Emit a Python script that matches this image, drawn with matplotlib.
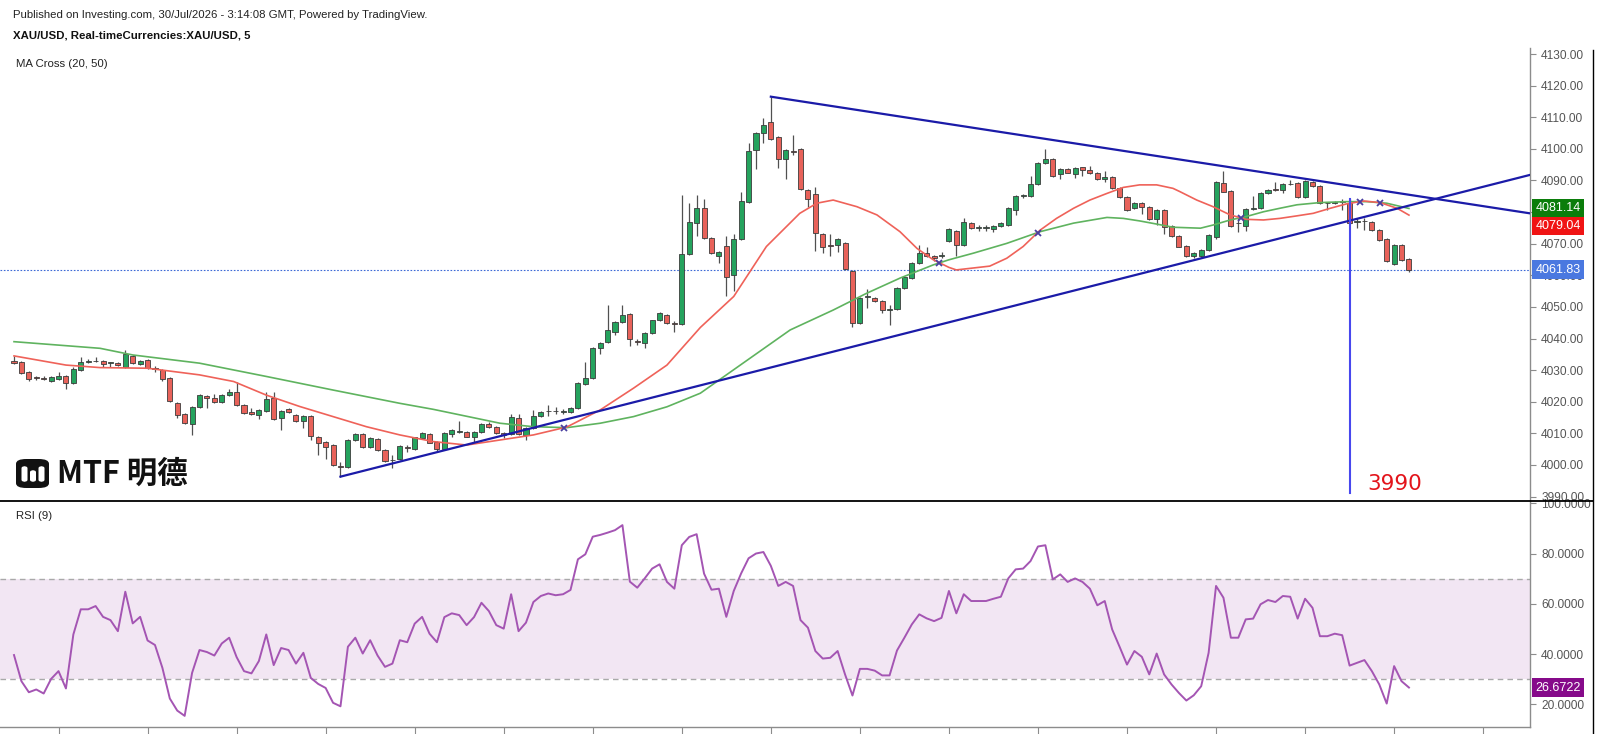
import numpy as np
import matplotlib
matplotlib.use('Agg')
from matplotlib import pyplot as plt
from matplotlib.lines import Line2D
from matplotlib.patches import FancyBboxPatch

W, H = 1600, 734

# 5 min XAU/USD candles
opens = [4033.0, 4032.5, 4029.5, 4027.6, 4027.6, 4026.7, 4027.3, 4028.3, 4025.8, 4030.1,
         4032.6, 4032.8, 4033.0, 4032.2, 4032.2, 4031.1, 4034.6, 4031.8, 4033.2, 4030.6,
         4030.1, 4027.4, 4019.5, 4016.1, 4013.0, 4018.2, 4021.8, 4021.1, 4020.0, 4022.1,
         4023.2, 4019.0, 4016.8, 4015.8, 4017.2, 4021.1, 4014.8, 4017.7, 4015.8, 4014.0,
         4015.5, 4009.0, 4007.4, 4006.3, 3999.5, 3999.3, 4008.0, 4009.8, 4005.6, 4008.1,
         4004.8, 4001.5, 4001.8, 4005.6, 4005.1, 4008.4, 4009.7, 4007.2, 4005.1, 4009.8,
         4010.4, 4010.5, 4009.0, 4010.5, 4013.0, 4011.9, 4010.0, 4009.8, 4014.8, 4009.6,
         4011.6, 4015.5, 4017.0, 4017.1, 4016.9, 4016.9, 4017.9, 4025.6, 4027.4, 4037.1,
         4039.0, 4042.2, 4045.3, 4047.7, 4039.2, 4038.5, 4041.7, 4045.9, 4047.4, 4044.7,
         4044.6, 4066.8, 4076.4, 4081.4, 4071.9, 4066.0, 4069.4, 4060.1, 4071.4, 4083.3,
         4099.7, 4104.9, 4108.6, 4103.7, 4096.8, 4099.2, 4100.0, 4087.0, 4085.6, 4073.0,
         4069.6, 4069.6, 4070.1, 4061.4, 4044.8, 4053.0, 4052.7, 4052.0, 4049.0, 4049.2,
         4055.9, 4059.1, 4063.8, 4067.2, 4066.2, 4066.2, 4070.8, 4074.1, 4069.6, 4076.5,
         4074.9, 4075.0, 4074.6, 4075.6, 4076.0, 4080.7, 4085.1, 4085.1, 4088.9, 4095.4,
         4096.7, 4092.1, 4093.6, 4091.9, 4094.1, 4093.3, 4092.3, 4090.4, 4091.2, 4087.5,
         4084.9, 4081.2, 4083.0, 4081.5, 4077.7, 4080.7, 4075.6, 4072.4, 4069.3, 4066.1,
         4066.1, 4068.0, 4072.2, 4089.3, 4086.7, 4076.4, 4075.6, 4080.9, 4081.2, 4086.0,
         4087.2, 4087.0, 4088.9, 4089.1, 4084.9, 4089.6, 4088.3, 4082.8, 4082.8, 4083.3,
         4083.0, 4077.0, 4077.2, 4077.0, 4074.3, 4071.4, 4063.5, 4069.6, 4065.2]
highs = [4034.5, 4033.0, 4029.8, 4028.0, 4028.0, 4028.0, 4029.5, 4028.6, 4031.0, 4034.0,
         4033.4, 4034.0, 4033.3, 4032.6, 4032.5, 4036.4, 4034.9, 4033.3, 4033.5, 4031.3,
         4030.4, 4027.7, 4019.8, 4016.4, 4018.5, 4022.3, 4022.1, 4022.5, 4022.4, 4024.0,
         4026.2, 4019.3, 4018.0, 4017.7, 4023.0, 4023.0, 4017.5, 4018.0, 4016.1, 4015.8,
         4015.8, 4009.3, 4007.7, 4006.6, 4000.8, 4008.3, 4010.2, 4010.1, 4008.7, 4008.4,
         4005.1, 4003.2, 4006.3, 4006.4, 4009.0, 4010.3, 4010.0, 4007.5, 4010.5, 4011.4,
         4014.0, 4010.8, 4010.8, 4013.3, 4013.6, 4012.2, 4010.3, 4016.0, 4016.0, 4011.9,
         4017.5, 4017.2, 4019.0, 4018.2, 4017.8, 4018.2, 4026.1, 4032.6, 4037.4, 4039.0,
         4050.6, 4045.6, 4050.6, 4048.0, 4040.0, 4042.0, 4046.0, 4048.3, 4047.7, 4045.4,
         4085.3, 4083.0, 4085.5, 4084.0, 4072.2, 4067.6, 4072.5, 4073.0, 4086.5, 4102.0,
         4105.2, 4109.6, 4116.5, 4104.0, 4100.0, 4104.4, 4100.3, 4087.3, 4088.0, 4073.3,
         4073.0, 4071.7, 4070.4, 4061.7, 4053.0, 4055.8, 4053.0, 4052.3, 4050.5, 4056.2,
         4059.7, 4064.1, 4069.7, 4069.0, 4066.5, 4067.5, 4074.9, 4074.4, 4078.0, 4076.8,
         4075.8, 4076.0, 4075.9, 4076.8, 4081.5, 4085.4, 4085.8, 4091.5, 4095.7, 4100.1,
         4097.0, 4093.9, 4093.9, 4094.2, 4094.4, 4094.7, 4092.6, 4093.0, 4091.5, 4087.8,
         4085.2, 4083.3, 4083.3, 4081.8, 4081.0, 4081.0, 4075.9, 4072.7, 4069.6, 4067.3,
         4068.3, 4073.1, 4089.9, 4093.0, 4087.0, 4078.5, 4081.2, 4085.0, 4086.3, 4087.3,
         4089.6, 4089.2, 4090.0, 4089.4, 4090.1, 4089.9, 4088.6, 4083.3, 4083.6, 4084.0,
         4084.0, 4078.0, 4078.0, 4077.3, 4074.6, 4071.7, 4069.9, 4069.9, 4065.5]
lows = [4031.8, 4028.8, 4026.7, 4027.0, 4026.8, 4026.4, 4027.0, 4024.0, 4025.5, 4029.8,
        4032.2, 4032.5, 4031.0, 4031.0, 4031.2, 4030.8, 4031.9, 4031.5, 4030.3, 4029.5,
        4026.7, 4020.0, 4015.0, 4012.9, 4009.6, 4018.0, 4017.9, 4019.7, 4019.7, 4021.8,
        4018.7, 4016.0, 4015.8, 4014.5, 4016.9, 4014.3, 4011.0, 4016.4, 4013.7, 4011.7,
        4007.8, 4003.0, 4002.0, 3999.6, 3996.3, 3999.0, 4007.7, 4005.3, 4005.3, 4004.4,
        4001.0, 3999.0, 4001.5, 4004.0, 4004.8, 4008.1, 4006.8, 4004.5, 4004.8, 4009.0,
        4010.0, 4008.7, 4007.0, 4010.2, 4011.6, 4009.7, 4008.6, 4009.5, 4009.5, 4008.0,
        4011.3, 4015.2, 4015.5, 4016.0, 4016.0, 4016.5, 4017.6, 4025.3, 4027.1, 4035.0,
        4038.7, 4041.0, 4045.0, 4037.5, 4038.0, 4037.0, 4041.4, 4045.6, 4044.7, 4042.0,
        4044.3, 4066.5, 4072.5, 4071.4, 4066.7, 4064.0, 4053.3, 4055.0, 4071.1, 4083.0,
        4093.7, 4102.0, 4102.7, 4094.0, 4090.4, 4098.2, 4087.0, 4081.5, 4067.7, 4067.0,
        4066.2, 4067.5, 4061.6, 4043.5, 4044.5, 4049.6, 4051.7, 4048.0, 4044.3, 4048.9,
        4055.6, 4058.8, 4063.5, 4065.8, 4064.5, 4065.6, 4070.5, 4066.0, 4069.3, 4074.6,
        4074.0, 4074.0, 4073.8, 4075.3, 4075.7, 4079.0, 4084.6, 4084.8, 4088.6, 4095.1,
        4091.1, 4090.5, 4092.2, 4090.8, 4091.5, 4092.0, 4090.1, 4089.5, 4087.2, 4084.6,
        4080.4, 4080.9, 4079.5, 4077.4, 4076.0, 4073.0, 4072.1, 4068.8, 4065.8, 4065.5,
        4065.8, 4067.7, 4071.5, 4086.2, 4075.3, 4073.8, 4074.0, 4080.6, 4080.9, 4085.7,
        4086.7, 4086.0, 4088.6, 4084.6, 4084.6, 4088.0, 4082.5, 4080.7, 4082.5, 4080.7,
        4076.2, 4074.9, 4074.3, 4074.0, 4070.9, 4064.2, 4063.2, 4064.6, 4060.9]
closes = [4032.4, 4029.2, 4027.2, 4027.5, 4027.1, 4027.7, 4028.2, 4025.8, 4030.3, 4032.7,
          4032.8, 4033.0, 4032.0, 4032.3, 4031.5, 4035.0, 4032.2, 4033.0, 4030.6, 4030.5,
          4027.1, 4020.3, 4015.8, 4013.2, 4018.2, 4022.0, 4021.1, 4020.0, 4022.1, 4023.1,
          4019.0, 4016.3, 4016.1, 4017.4, 4020.8, 4014.6, 4017.2, 4016.7, 4014.0, 4015.5,
          4009.2, 4007.1, 4005.8, 3999.9, 3999.4, 4008.0, 4009.9, 4005.6, 4008.4, 4004.7,
          4001.3, 4001.7, 4006.0, 4005.4, 4008.7, 4010.0, 4007.1, 4005.1, 4010.2, 4011.1,
          4010.6, 4009.0, 4010.5, 4013.0, 4011.9, 4010.0, 4009.5, 4015.3, 4009.8, 4011.6,
          4015.5, 4016.9, 4017.2, 4017.0, 4017.0, 4017.9, 4025.8, 4027.4, 4037.1, 4038.7,
          4042.7, 4045.3, 4047.4, 4039.8, 4039.0, 4041.7, 4045.7, 4048.0, 4045.0, 4044.6,
          4066.8, 4076.7, 4081.4, 4071.7, 4067.0, 4067.3, 4059.6, 4071.5, 4083.5, 4099.4,
          4104.9, 4107.4, 4103.0, 4096.8, 4099.7, 4098.9, 4087.3, 4084.0, 4073.5, 4068.8,
          4069.4, 4071.4, 4061.9, 4044.8, 4052.7, 4053.5, 4052.0, 4049.0, 4049.3, 4055.9,
          4059.4, 4063.8, 4067.2, 4066.1, 4065.4, 4066.5, 4074.6, 4069.6, 4077.0, 4074.9,
          4075.0, 4075.1, 4075.6, 4076.5, 4081.2, 4085.1, 4085.2, 4088.9, 4095.4, 4096.7,
          4091.4, 4093.6, 4092.5, 4093.9, 4093.3, 4092.3, 4090.4, 4091.2, 4087.5, 4084.9,
          4080.7, 4083.0, 4081.5, 4077.7, 4080.7, 4075.4, 4072.4, 4069.1, 4066.1, 4067.0,
          4068.0, 4072.8, 4089.6, 4086.5, 4075.6, 4076.6, 4080.9, 4081.4, 4086.0, 4087.0,
          4087.0, 4088.9, 4088.8, 4084.9, 4089.8, 4088.3, 4082.8, 4082.9, 4083.3, 4083.2,
          4076.5, 4077.1, 4077.1, 4074.3, 4071.2, 4064.5, 4069.6, 4064.9, 4061.83]

# RSI(9), one value per candle
rsi = [39.6, 29.2, 24.8, 25.9, 24.3, 30.1, 33.2, 26.3, 47.8, 57.8,
       57.8, 59.1, 54.8, 53.5, 49.1, 64.8, 52.2, 54.8, 45.4, 43.6,
       34.5, 22.3, 17.5, 15.4, 32.5, 41.6, 40.8, 39.4, 44.2, 46.5,
       38.8, 33.2, 32.3, 37.2, 47.8, 35.6, 42.4, 41.6, 36.2, 40.5,
       30.5, 28.1, 26.5, 20.6, 19.2, 42.9, 46.5, 40.2, 45.5, 39.4,
       34.9, 36.2, 45.5, 44.7, 52.1, 54.8, 48.1, 44.7, 54.7, 56.2,
       55.5, 51.5, 54.7, 60.4, 57.1, 51.5, 50.1, 63.8, 49.1, 52.5,
       60.7, 63.1, 64.1, 63.4, 63.8, 65.5, 77.7, 79.7, 86.7, 87.4,
       88.3, 89.3, 91.3, 68.8, 66.4, 70.1, 74.0, 75.7, 68.7, 66.0,
       83.3, 86.6, 87.7, 72.0, 65.6, 66.0, 54.8, 65.1, 72.1, 78.1,
       80.0, 80.6, 75.1, 67.1, 68.7, 67.1, 53.5, 50.5, 41.2, 38.2,
       38.5, 41.2, 31.9, 23.5, 34.1, 34.1, 33.4, 31.5, 31.5, 41.4,
       46.5, 51.8, 55.8, 54.2, 53.1, 54.4, 65.1, 56.2, 63.8, 61.1,
       61.1, 61.1, 62.0, 62.8, 70.1, 73.7, 74.0, 77.0, 82.8, 83.3,
       69.7, 71.7, 68.7, 70.1, 68.7, 66.0, 59.4, 61.1, 49.8, 42.9,
       35.8, 41.2, 38.9, 31.9, 40.2, 31.9, 27.9, 24.5, 21.5, 23.6,
       27.2, 40.5, 67.1, 62.4, 46.5, 46.5, 53.8, 54.1, 59.8, 61.5,
       60.7, 63.1, 62.8, 54.1, 62.0, 58.4, 47.1, 47.1, 48.1, 47.5,
       35.4, 36.5, 37.6, 33.2, 27.9, 20.3, 35.2, 29.2, 26.6722]

# moving averages, read at candle positions
ma20_idx = [0, 7, 11.6, 18, 25, 29.6, 34, 38.5, 43, 47.5, 52, 56.5, 61, 65.5, 70, 74.5,
            79, 83.5, 88, 92.5, 97, 101.4, 105.9, 108.2, 110.4, 113.6, 116.3, 119.4,
            121.7, 123.9, 126, 127, 131.5, 133.8, 136, 138.3, 140.5, 142.8, 145, 147.3,
            149.5, 151.7, 154, 156.2, 157.1, 159.4, 161.6, 163.9, 166.1, 168.4, 170.6,
            172.9, 175.1, 177.4, 179.6, 181.9, 184.1, 186.4, 188]
ma20_val = [4034.5, 4031.6, 4030.8, 4030.6, 4028.5, 4026.4, 4022.1, 4018.5, 4015.3, 4012.1,
            4009.5, 4007.4, 4006.3, 4007.9, 4009.5, 4012.0, 4017.4, 4024.3, 4031.6, 4043.5,
            4053.3, 4069.1, 4079.6, 4082.8, 4083.8, 4081.7, 4079.1, 4073.8, 4068.5, 4064.9,
            4062.5, 4061.7, 4062.9, 4065.4, 4069.1, 4074.3, 4078.0, 4081.2, 4083.8, 4085.9,
            4087.8, 4088.6, 4088.6, 4087.5, 4086.5, 4083.8, 4081.7, 4079.1, 4077.7, 4077.5,
            4078.0, 4078.8, 4079.6, 4081.2, 4082.6, 4083.5, 4083.0, 4081.2, 4079.04]
ma50_idx = [0, 11.6, 16, 25, 34, 43, 47.5, 52, 56.5, 65.5, 70, 74.5, 79, 83.5, 88, 92.5,
            104.6, 110.4, 114.9, 119.4, 123.9, 126, 129.3, 133.8, 138.3, 142.8, 147.3,
            149.5, 151.7, 154, 156.2, 159.9, 161.6, 163.9, 166.1, 168.4, 170.6, 172.9,
            176, 179.6, 182.3, 185, 188]
ma50_val = [4039.0, 4036.9, 4034.8, 4032.2, 4028.0, 4023.7, 4021.6, 4019.5, 4017.6, 4013.2,
            4012.1, 4011.8, 4013.2, 4015.3, 4018.4, 4022.7, 4042.7, 4049.0, 4054.3, 4059.1,
            4063.3, 4064.9, 4067.0, 4070.1, 4073.8, 4076.5, 4078.3, 4078.0, 4077.2, 4076.2,
            4075.2, 4074.9, 4075.9, 4077.5, 4078.6, 4080.1, 4081.2, 4082.3, 4083.0, 4083.3,
            4083.3, 4082.8, 4081.14]

# drawn trend lines (candle index, price)
upper_x = [102, 204.3]
upper_y = [4116.5, 4079.6]
lower_x = [44, 204.3]
lower_y = [3996.3, 4091.75]
target_x = 180
target_top = 4084.0
target_bottom = 3991.0
target_label = '3990'

last_price = 4061.83
last_ma50 = 4081.14
last_ma20 = 4079.04
last_rsi = 26.6722

price_ticks = list(range(3990, 4131, 10))
rsi_ticks = [20, 40, 60, 80, 100]
hour_ticks = list(range(6, 205, 12))

plt.rcParams['font.family'] = ['Liberation Sans', 'DejaVu Sans']

UP = '#25a35e'
DOWN = '#e8625a'
EDGE = '#3b3b3b'
AXC = '#8c8c8c'
LBL = '#555555'


def fx(x):
    return x / W


def fy(y):
    return 1 - y / H


n = len(closes)
xs = np.arange(n)
o = np.array(opens)
c = np.array(closes)

fig = plt.figure(figsize=(16, 7.34), dpi=100)

# main price panel
ax = fig.add_axes([0, fy(501), fx(1530), (501 - 48) / H])
ax.set_xlim(-14 / 7.42, (1530 - 14) / 7.42)
ax.set_ylim(3988.6, 4131.9)

ax.vlines(xs, lows, highs, color='#505050', lw=0.9, zorder=2)
body_lo = np.minimum(o, c)
body_h = np.maximum(np.abs(c - o), 0.22)
cols = [UP if cc >= oo else DOWN for oo, cc in zip(o, c)]
ax.bar(xs, body_h, bottom=body_lo, width=0.68, color=cols, edgecolor=EDGE,
       linewidth=0.6, zorder=3)

ax.plot(ma50_idx, ma50_val, color='#5fb35f', lw=1.2, zorder=4)
ax.plot(ma20_idx, ma20_val, color='#ef6259', lw=1.2, zorder=4)

# MA cross markers
grid = np.arange(0, n - 1, 0.05)
m20 = np.interp(grid, ma20_idx, ma20_val)
m50 = np.interp(grid, ma50_idx, ma50_val)
sgn = np.sign(m20 - m50)
cross = np.where(np.diff(sgn) != 0)[0]
ax.plot(grid[cross], m20[cross], 'x', color='#4a3f9f', ms=4, mew=1.3, zorder=5)

ax.plot(upper_x, upper_y, color='#1b1ba8', lw=1.6, zorder=5)
ax.plot(lower_x, lower_y, color='#1b1ba8', lw=1.6, zorder=5)
ax.plot([target_x, target_x], [target_top, target_bottom], color='#4848ee', lw=1.5, zorder=5)
ax.text(target_x + 2.4, target_bottom + 1.2, target_label, color='#e3141b', fontsize=15.5,
        family='DejaVu Sans', ha='left', va='baseline', zorder=6)

ax.axhline(last_price, color='#3d6ad6', lw=0.8, ls=(0, (1.5, 1.5)), zorder=1)

ax.yaxis.tick_right()
ax.set_yticks(price_ticks)
ax.set_yticklabels([f'{t:.2f}' for t in price_ticks])
ax.set_xticks([])
ax.tick_params(axis='y', length=4, width=0.8, color=AXC, labelcolor=LBL,
               labelsize=8.6, pad=4)
for s in ['left', 'top', 'bottom']:
    ax.spines[s].set_visible(False)
ax.spines['right'].set_color(AXC)
ax.spines['right'].set_linewidth(1.0)

for val, col, dy in [(last_ma50, '#0b7d0b', 0), (last_ma20, '#f01414', -7.8),
                     (last_price, '#4a78e0', 0)]:
    ax.annotate(f'{val:.2f}', xy=(1.0, val), xycoords=('axes fraction', 'data'),
                xytext=(4, dy), textcoords='offset points', ha='left', va='center',
                color='white', fontsize=9,
                bbox=dict(boxstyle='square,pad=0.26', fc=col, ec='none'),
                annotation_clip=False, zorder=10)

# RSI panel
ax2 = fig.add_axes([0, fy(727.3), fx(1530), (727.3 - 501) / H])
ax2.set_xlim(ax.get_xlim())
ax2.set_ylim(10.85, 100.9)
ax2.axhspan(30, 70, color='#f2e6f3', lw=0, zorder=0)
ax2.axhline(70, color='#a9a9a9', lw=1.0, ls=(0, (4, 3)), zorder=1)
ax2.axhline(30, color='#a9a9a9', lw=1.0, ls=(0, (4, 3)), zorder=1)
ax2.plot(xs, rsi, color='#a455b3', lw=1.4, zorder=3)

ax2.yaxis.tick_right()
ax2.set_yticks(rsi_ticks)
ax2.set_yticklabels([f'{t:.4f}' for t in rsi_ticks])
ax2.set_xticks(hour_ticks)
ax2.set_xticklabels([])
ax2.tick_params(axis='y', length=4, width=0.8, color=AXC, labelcolor=LBL,
                labelsize=8.6, pad=4)
ax2.tick_params(axis='x', length=6, width=0.8, color=AXC, direction='out')
for s in ['left', 'top']:
    ax2.spines[s].set_visible(False)
for s in ['right', 'bottom']:
    ax2.spines[s].set_color(AXC)
    ax2.spines[s].set_linewidth(1.0)
ax2.annotate(f'{last_rsi:.4f}', xy=(1.0, last_rsi), xycoords=('axes fraction', 'data'),
             xytext=(4, 0), textcoords='offset points', ha='left', va='center',
             color='white', fontsize=9,
             bbox=dict(boxstyle='square,pad=0.26', fc='#860a8a', ec='none'),
             annotation_clip=False, zorder=10)

# frame lines
fig.add_artist(Line2D([0, fx(1593)], [fy(501), fy(501)], color='black', lw=1.3))
fig.add_artist(Line2D([fx(1593), fx(1593)], [fy(50), 0], color='black', lw=1.0))

# header texts
fig.text(fx(13), fy(15), 'Published on Investing.com, 30/Jul/2026 - 3:14:08 GMT, Powered by TradingView.',
         fontsize=8.2, color='#222222', va='center', ha='left')
fig.text(fx(13), fy(35), 'XAU/USD, Real-timeCurrencies:XAU/USD, 5', fontsize=8.2,
         fontweight='bold', color='#111111', va='center', ha='left')
fig.text(fx(16), fy(64), 'MA Cross (20, 50)', fontsize=8.2, color='#222222', va='center', ha='left')
fig.text(fx(16), fy(516), 'RSI (9)', fontsize=8.2, color='#222222', va='center', ha='left')

# logo
fig.add_artist(FancyBboxPatch((fx(16), fy(488)), fx(33), (488 - 459) / H,
                              boxstyle='round,pad=0,rounding_size=0.0065',
                              fc='#111111', ec='none', transform=fig.transFigure))
for bx, top in [(21.5, 466), (30, 470), (38.5, 466)]:
    fig.add_artist(FancyBboxPatch((fx(bx), fy(482)), fx(6), (482 - top) / H,
                                  boxstyle='round,pad=0,rounding_size=0.003',
                                  fc='white', ec='none', transform=fig.transFigure))
fig.text(fx(57), fy(474), 'MTF 明德', fontsize=22, fontweight='heavy',
         family=['Noto Sans CJK SC', 'DejaVu Sans'], color='#111111', va='center', ha='left')

fig.savefig('out.png', dpi=100)
